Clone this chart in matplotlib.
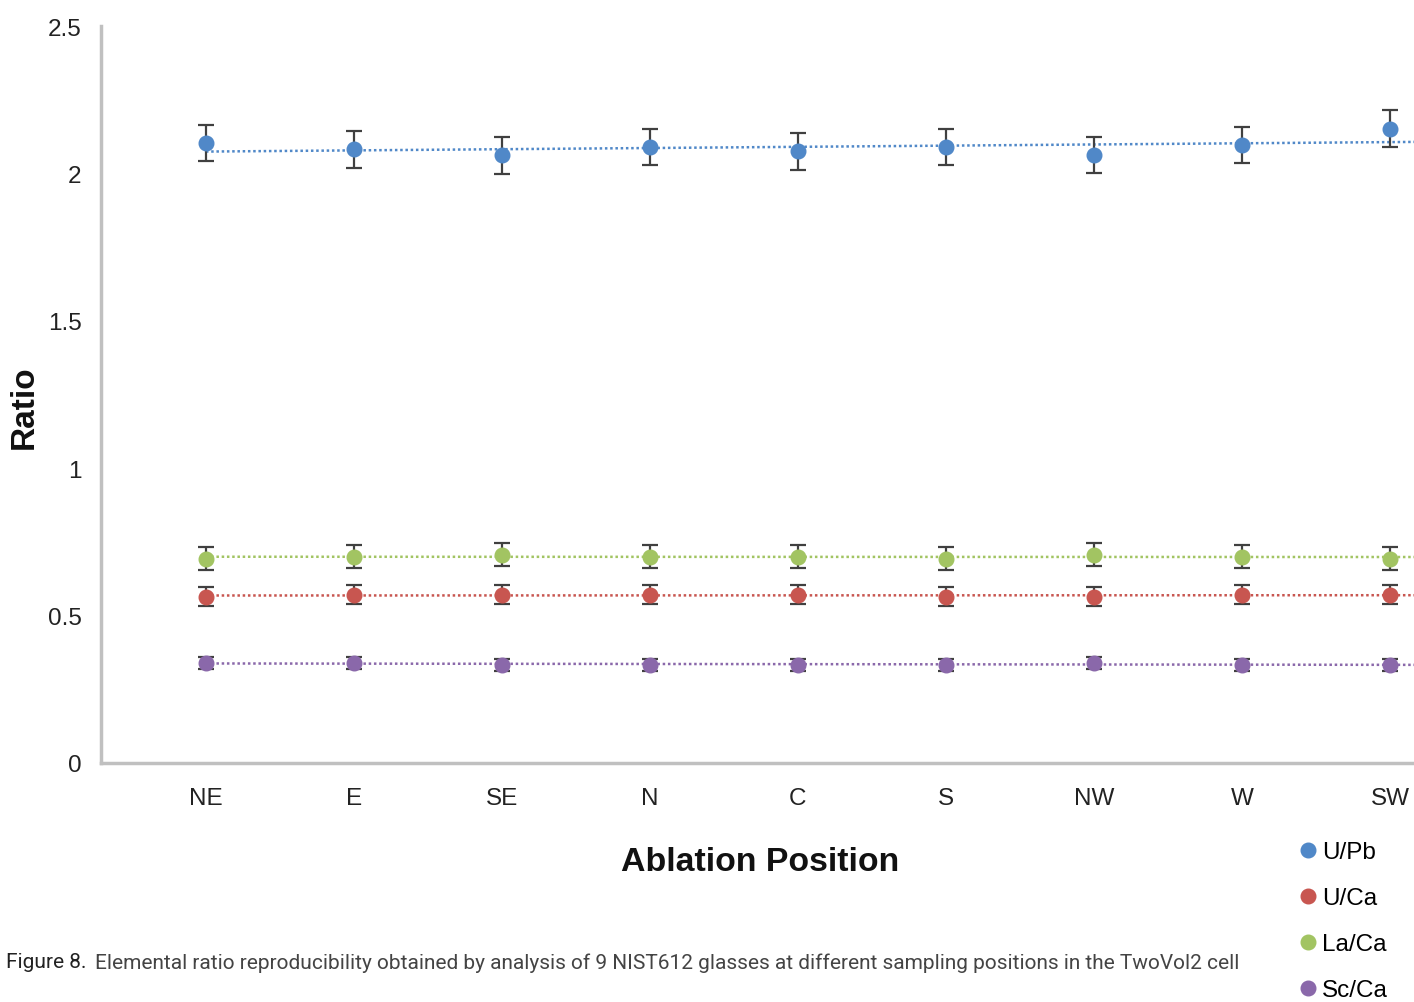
import numpy as np
import matplotlib.pyplot as plt
from matplotlib.lines import Line2D

positions = ['NE', 'E', 'SE', 'N', 'C', 'S', 'NW', 'W', 'SW']

u_pb = [2.103, 2.082, 2.062, 2.089, 2.075, 2.089, 2.062, 2.097, 2.152]
u_pb_err = [0.061, 0.062, 0.063, 0.062, 0.062, 0.062, 0.062, 0.062, 0.062]
u_ca = [0.564, 0.571, 0.571, 0.571, 0.571, 0.564, 0.564, 0.571, 0.571]
u_ca_err = [0.032, 0.032, 0.032, 0.032, 0.032, 0.032, 0.032, 0.032, 0.032]
la_ca = [0.693, 0.700, 0.707, 0.700, 0.700, 0.693, 0.707, 0.700, 0.693]
la_ca_err = [0.040, 0.040, 0.040, 0.040, 0.040, 0.040, 0.040, 0.040, 0.040]
sc_ca = [0.340, 0.340, 0.333, 0.333, 0.333, 0.333, 0.340, 0.333, 0.333]
sc_ca_err = [0.020, 0.020, 0.020, 0.020, 0.020, 0.020, 0.020, 0.020, 0.020]

series = [
    ('U/Pb', u_pb, u_pb_err, '#5088c8'),
    ('U/Ca', u_ca, u_ca_err, '#c85650'),
    ('La/Ca', la_ca, la_ca_err, '#a2c462'),
    ('Sc/Ca', sc_ca, sc_ca_err, '#8a68aa'),
]

fig = plt.figure(figsize=(14.14, 10.03), dpi=100)
ax = fig.add_axes([101 / 1414, 1 - 764 / 1003, 1 - 101 / 1414, (764 - 27) / 1003])

x = np.arange(len(positions))
handles = []
for name, vals, errs, col in series:
    # linear trendline, dotted, running off the right edge
    k, b = np.polyfit(x, vals, 1)
    xt = np.array([0, 9])
    ax.plot(xt, k * xt + b, color=col, lw=1.8, ls=(0, (1, 1.1)), zorder=2)
    ax.errorbar(x, vals, yerr=errs, fmt='none', ecolor='#404040', elinewidth=1.6,
                capsize=6, capthick=1.6, zorder=3)
    ax.plot(x, vals, 'o', color=col, ms=10.5, mec=col, zorder=4)
    handles.append(Line2D([], [], marker='o', ls='none', color=col, ms=10.5, label=name))

ax.set_xlim(-0.709, 8.162)
ax.set_ylim(0, 2.5)
ax.set_xticks(x)
ax.set_xticklabels(positions, fontsize=17.5, family='Liberation Sans', color='#222222')
ax.set_yticks([0, 0.5, 1, 1.5, 2, 2.5])
ax.set_yticklabels(['0', '0.5', '1', '1.5', '2', '2.5'], fontsize=17.5,
                   family='Liberation Sans', color='#222222')
ax.tick_params(length=0, pad=14)
ax.tick_params(axis='x', pad=17)

for s in ['top', 'right']:
    ax.spines[s].set_visible(False)
for s in ['left', 'bottom']:
    ax.spines[s].set_color('#c0c0c0')
    ax.spines[s].set_linewidth(2.5)

fig.text(24 / 1414, 1 - 407 / 1003, 'Ratio', fontsize=24, fontweight='bold',
         family='Liberation Sans', color='#111111', rotation=90, ha='center', va='center')
fig.text(760 / 1414, 1 - 863 / 1003, 'Ablation Position', fontsize=24.4, fontweight='bold',
         family='Liberation Sans', color='#111111', ha='center', va='center')

fig.legend(handles=handles, loc='upper left', bbox_to_anchor=(1293 / 1414, 1 - 842 / 1003),
           frameon=False, prop={'family': 'Liberation Sans', 'size': 17.5},
           handletextpad=0.0, handlelength=1.2, labelspacing=0.99, borderaxespad=0,
           borderpad=0)

fig.text(6 / 1414, 1 - 963 / 1003, 'Figure 8.', fontsize=15, family='Roboto',
         color='#222222', va='center')
fig.text(95 / 1414, 1 - 963 / 1003,
         'Elemental ratio reproducibility obtained by analysis of 9 NIST612 glasses at '
         'different sampling positions in the TwoVol2 cell',
         fontsize=15.05, family='Roboto', color='#444444', va='center')

fig.savefig('out.png', dpi=100)
